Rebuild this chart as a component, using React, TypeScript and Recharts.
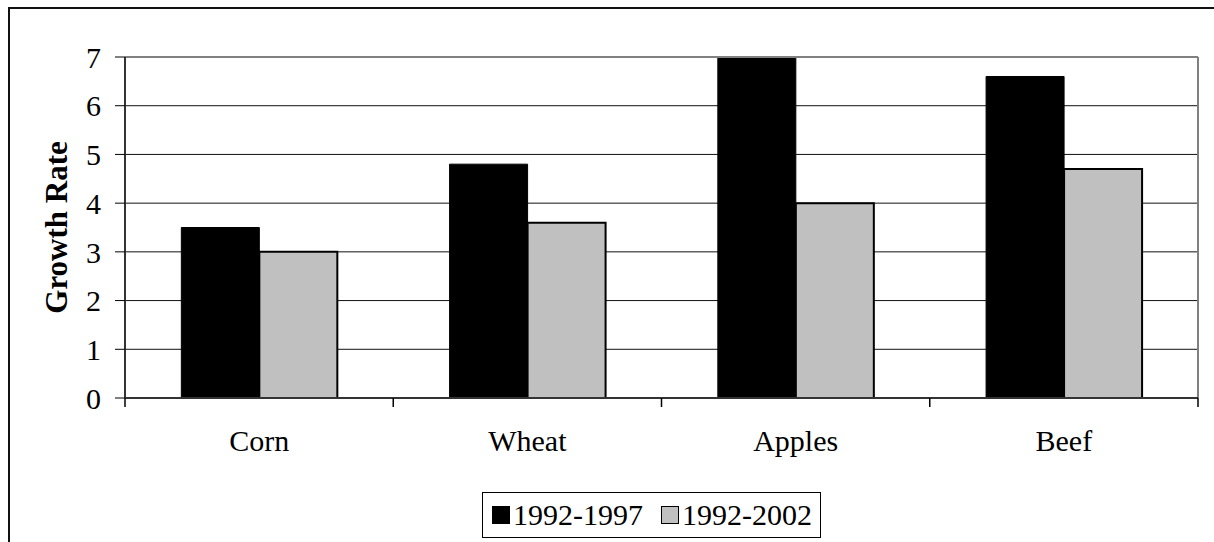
import { BarChart, Bar, XAxis, YAxis, CartesianGrid, ReferenceLine } from 'recharts';

const CATEGORIES = ['Corn', 'Wheat', 'Apples', 'Beef'];
const RATE_92_97 = [3.5, 4.8, 7.0, 6.6];
const RATE_92_02 = [3.0, 3.6, 4.0, 4.7];
const Y_TICKS = [0, 1, 2, 3, 4, 5, 6, 7];
const EDGE_TICKS = [0, 1, 2, 3, 4];
const SERIES = [
  { key: 'r9297', label: '1992-1997', fill: '#000000' },
  { key: 'r9202', label: '1992-2002', fill: '#c0c0c0' },
];

const data = CATEGORIES.map((name, i) => ({ name, r9297: RATE_92_97[i], r9202: RATE_92_02[i] }));

const FONT = '"Liberation Serif", "Times New Roman", serif';
const tickText = { fontFamily: FONT, fontSize: 30, fill: '#000' };

function YTitle(props: any) {
  const vb = props.viewBox || { x: 65, y: 57, width: 60, height: 341 };
  const cx = vb.x - 9;
  const cy = vb.y + vb.height / 2;
  return (
    <text x={cx} y={cy} transform={`rotate(-90, ${cx}, ${cy})`} textAnchor="middle" dominantBaseline="central"
      style={{ fontFamily: FONT, fontSize: 31, fontWeight: 'bold', fill: '#000' }}>
      Growth Rate
    </text>
  );
}

// category index of each row, used only to feed the boundary-tick axis
const slotOf = (row: { name: string }) => CATEGORIES.indexOf(row.name) + 0.5;

export default function App() {
  return (
    <div style={{ position: 'absolute', left: 0, top: 0, width: 1214, height: 542, background: '#fff', overflow: 'hidden' }}>
      <div style={{ position: 'absolute', left: 8, top: 7, width: 1206, height: 535, borderLeft: '2px solid #111', borderTop: '2px solid #111' }} />
      <div style={{ position: 'absolute', left: 0, top: 0 }}>
        <BarChart width={1214} height={542} data={data} margin={{ top: 57, right: 16, left: 65, bottom: 104 }}
          barCategoryGap="21%" barGap={0}>
          <CartesianGrid vertical={false} stroke="#111" strokeWidth={1} />
          <XAxis dataKey="name" height={40} tickLine={false} tickSize={0} tickMargin={32}
            axisLine={{ stroke: '#333', strokeWidth: 2 }} tick={tickText} interval={0} />
          <XAxis xAxisId="edge" type="number" scale="linear" dataKey={slotOf} domain={[0, CATEGORIES.length]}
            allowDataOverflow ticks={EDGE_TICKS} interval={0} height={30}
            mirror axisLine={false} tickSize={-9} tickLine={{ stroke: '#000', strokeWidth: 1.5 }} tick={() => <g />} />
          <YAxis width={60} domain={[0, 7]} ticks={Y_TICKS} tickSize={10} tickMargin={14}
            axisLine={{ stroke: '#333', strokeWidth: 2 }} tickLine={{ stroke: '#000' }} tick={tickText}
            label={<YTitle />} />
          <ReferenceLine y={7} stroke="#808080" strokeWidth={2} />
          <ReferenceLine xAxisId="edge" x={CATEGORIES.length} stroke="#808080" strokeWidth={2} />
          <Bar dataKey="r9297" fill="#000" stroke="#000" strokeWidth={1} isAnimationActive={false} />
          <Bar dataKey="r9202" fill="#c0c0c0" stroke="#000" strokeWidth={2} isAnimationActive={false} />
        </BarChart>
      </div>
      <div style={{ position: 'absolute', left: 482, top: 492, width: 337, height: 44, border: '1px solid #000',
        display: 'flex', alignItems: 'center', fontFamily: FONT, fontSize: 30, color: '#000' }}>
        {SERIES.map((s, i) => (
          <div key={s.key} style={{ display: 'flex', alignItems: 'center', marginLeft: i === 0 ? 9 : 18 }}>
            <span style={{ display: 'inline-block', width: 16, height: 16, background: s.fill, border: '1px solid #000', marginRight: 3 }} />
            <span>{s.label}</span>
          </div>
        ))}
      </div>
    </div>
  );
}
